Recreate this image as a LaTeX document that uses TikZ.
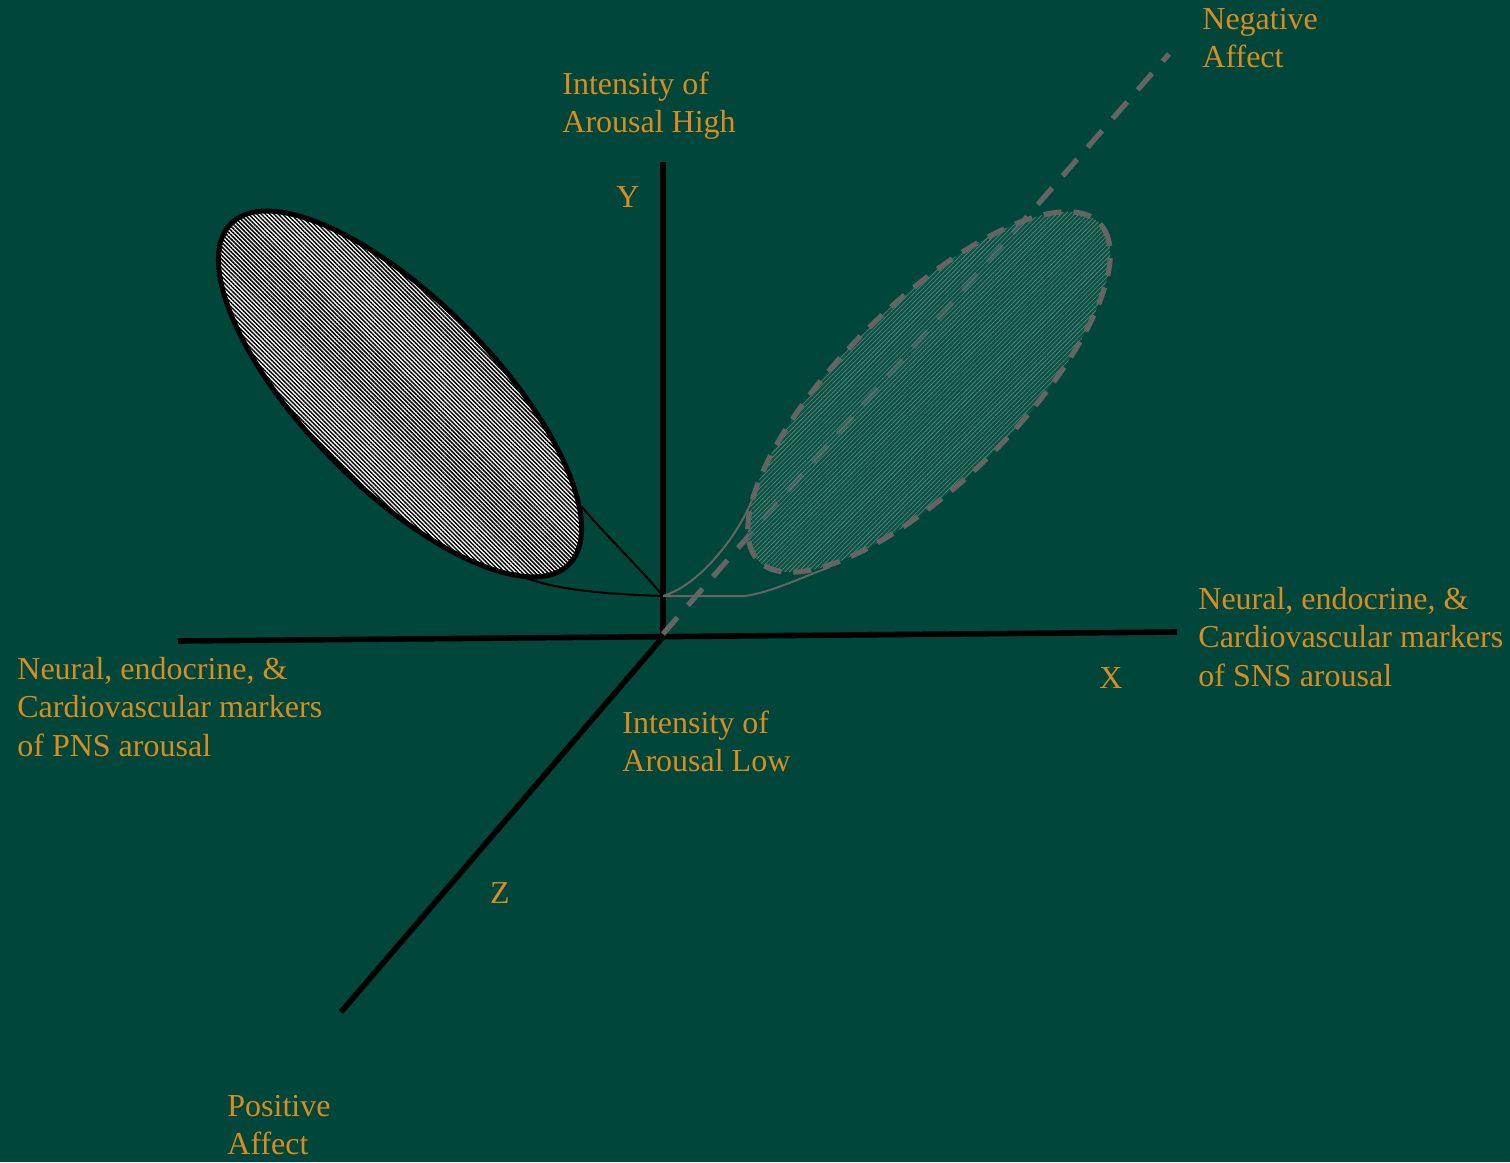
\documentclass[tikz,border=0pt]{standalone}
\usepackage{fontspec}
\setmainfont{Liberation Serif}
\usetikzlibrary{patterns.meta}
\definecolor{bg}{RGB}{0,70,58}
\definecolor{txt}{RGB}{217,140,32}
\definecolor{axgray}{RGB}{100,100,100}
\definecolor{tealfill}{RGB}{22,92,78}
\definecolor{teallite}{RGB}{95,140,128}
\newcommand\stacklbl[1]{\begin{tabular}[t]{@{}l@{}}#1\end{tabular}}
\begin{document}
\begin{tikzpicture}[x=0.5pt,y=-0.5pt,
  lbl/.style={text=txt,inner sep=0pt,anchor=base west,font=\fontsize{16}{19.4}\selectfont},
  axisline/.style={line width=2.8pt,black},
  dashaxis/.style={line width=2.6pt,axgray,dash pattern=on 11pt off 8pt},
  dashring/.style={line width=2.6pt,axgray,dash pattern=on 9pt off 6pt},
  funnelblack/.style={line width=1pt,black},
  funnelgray/.style={line width=1pt,axgray}]
\fill[bg] (0,0) rectangle (1510,1162);
\useasboundingbox (0,0) rectangle (1510,1162);

% coordinates
\coordinate (O) at (663,637);
\coordinate (Ytop) at (663,162);
\coordinate (Xleft) at (178,641);
\coordinate (Xright) at (1177,632);
\coordinate (Zend) at (341,1012);
\coordinate (Dstart) at (663,634);
\coordinate (Dend) at (1169,54);
\coordinate (P) at (663,596);
\coordinate (LA) at (582,507);
\coordinate (LB) at (515,573);
\coordinate (RA) at (752,500);
\coordinate (RB) at (830,567);
\coordinate (RM) at (745,596);

% left ellipse (PNS)
\def\leftell{plot[variable=\t,domain=0:355,samples=72,smooth cycle]
  ({400+240*cos(\t)*cos(45.3)-94*sin(\t)*sin(45.3)},{394+240*cos(\t)*sin(45.3)+94*sin(\t)*cos(45.3)})}
\fill[white] \leftell;
\fill[pattern={Lines[angle=-45,distance=1.5pt,line width=0.75pt]},pattern color=black] \leftell;
\draw[line width=2.5pt,black] \leftell;

% black funnel
\draw[funnelblack] (LA) .. controls (610,540) and (640,568) .. (P);
\draw[funnelblack] (LB) .. controls (548,590) and (605,594) .. (P);

% axes
\draw[axisline] (O) -- (Ytop);
\draw[axisline] (Xleft) -- (Xright);
\draw[axisline] (O) -- (Zend);
\draw[dashaxis] (Dstart) -- (Dend);

% right ellipse (SNS)
\def\rightell{plot[variable=\t,domain=0:355,samples=72,smooth cycle]
  ({929+240*cos(\t)*cos(-44.8)-88*sin(\t)*sin(-44.8)},{392+240*cos(\t)*sin(-44.8)+88*sin(\t)*cos(-44.8)})}
\fill[tealfill,fill opacity=0.55] \rightell;
\fill[pattern={Lines[angle=45,distance=1.6pt,line width=0.3pt]},pattern color=teallite,fill opacity=0.5] \rightell;
\draw[dashring] \rightell;

% gray funnel
\draw[funnelgray] (RA) .. controls (738,535) and (700,585) .. (P);
\draw[funnelgray] (P) -- (RM) .. controls (772,592) and (800,578) .. (RB);

% labels
\node[lbl] (neg) at (1202,29) {\stacklbl{Negative\\Affect}};
\node[lbl] (high) at (562,94) {\stacklbl{Intensity of\\Arousal High}};
\node[lbl,anchor=base] (ylab) at (628,207) {Y};
\node[lbl] (sns) at (1198,609) {\stacklbl{Neural, endocrine, \&\\Cardiovascular markers\\of SNS arousal}};
\node[lbl,anchor=base] (xlab) at (1111,688) {X};
\node[lbl] (pns) at (17,679) {\stacklbl{Neural, endocrine, \&\\Cardiovascular markers\\of PNS arousal}};
\node[lbl] (low) at (622,733) {\stacklbl{Intensity of\\Arousal Low}};
\node[lbl,anchor=base] (zlab) at (500,903) {Z};
\node[lbl] (pos) at (227,1116) {\stacklbl{Positive\\Affect}};
\end{tikzpicture}
\end{document}
